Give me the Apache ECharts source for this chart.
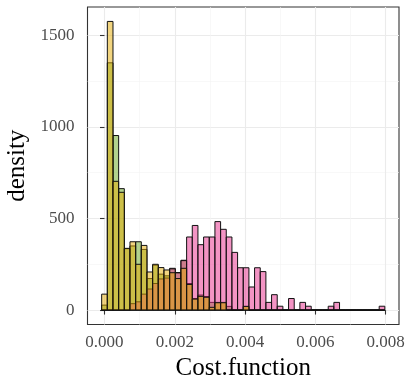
<!DOCTYPE html>
<html>
<head>
<meta charset="utf-8">
<script src="https://cdn.jsdelivr.net/npm/echarts@6/dist/echarts.min.js"></script>
<style>
  html, body { margin: 0; padding: 0; background: #fff; }
  #chart { width: 409px; height: 377px; }
</style>
</head>
<body>
<div id="chart"></div>
<script>
// histogram bins: 50 bins, first centred on 0
var binStart = -0.0000806
var binWidth = 0.00016122

// density per bin
var greenDensity = [27, 1350, 953, 663, 335, 350, 373, 331, 172, 245,
  196, 187, 228, 205, 272, 145, 63, 82, 74, 42,
  42, 42, 20, 0, 0, 20, 0, 0, 0, 0,
  0, 0, 0, 0, 0, 0, 0, 0, 0, 0,
  0, 0, 0, 0, 0, 0, 0, 0, 0, 0]
var pinkDensity = [0, 0, 0, 0, 0, 35, 45, 87, 115, 145,
  170, 175, 225, 203, 270, 399, 462, 357, 399, 399,
  483, 441, 399, 315, 231, 231, 126, 231, 210, 42,
  84, 21, 0, 63, 0, 42, 21, 0, 0, 0,
  21, 42, 0, 0, 0, 0, 0, 0, 0, 21]
var yellowDensity = [87, 1576, 703, 643, 337, 373, 250, 353, 208, 250,
  232, 219, 204, 172, 228, 140, 60, 75, 70, 15,
  40, 40, 0, 0, 0, 20, 0, 0, 0, 0,
  0, 0, 0, 0, 0, 0, 0, 0, 0, 0,
  0, 0, 0, 0, 0, 0, 0, 0, 0, 0]

var xMajor = [0, 0.002, 0.004, 0.006, 0.008]
var xMinor = [0.001, 0.003, 0.005, 0.007]
var yMajor = [0, 500, 1000, 1500]
var yMinor = [250, 750, 1250]

// ggplot style 5% expansion
var xLo = binStart, xHi = binStart + binWidth * greenDensity.length
var xPad = (xHi - xLo) * 0.05
var yTop = Math.max.apply(null, yellowDensity.concat(greenDensity, pinkDensity))
var yPad = yTop * 0.05

function toRows(values) {
  return values.map(function (v, i) {
    return [binStart + i * binWidth, binStart + (i + 1) * binWidth, v]
  })
}

function histSeries(values, fill) {
  return {
    type: 'custom',
    xAxisIndex: 0,
    yAxisIndex: 0,
    clip: true,
    silent: true,
    data: toRows(values),
    encode: { x: [0, 1], y: 2 },
    renderItem: function (params, api) {
      var a = api.coord([api.value(0), api.value(2)])
      var b = api.coord([api.value(1), 0])
      return {
        type: 'rect',
        shape: { x: a[0], y: a[1], width: b[0] - a[0], height: b[1] - a[1] },
        style: { fill: fill, stroke: '#111', lineWidth: 1 }
      }
    }
  }
}

var font = 'Liberation Serif'
var tickText = { fontFamily: font, fontSize: 17, color: '#4d4d4d' }

var myChart = echarts.init(document.getElementById('chart'), null, { renderer: 'canvas' })

myChart.setOption({
  animation: false,
  backgroundColor: '#fff',
  grid: {
    left: 87.5,
    right: 10,
    top: 7,
    bottom: 52.5,
    outerBoundsMode: 'none',
    containLabel: false,
    show: true,
    borderColor: '#333',
    borderWidth: 1.1,
    backgroundColor: 'transparent'
  },
  xAxis: [
    {
      type: 'value',
      min: xLo - xPad,
      max: xHi + xPad,
      name: 'Cost.function',
      nameLocation: 'middle',
      nameGap: 30,
      nameTextStyle: { fontFamily: font, fontSize: 25, color: '#000' },
      axisLine: { show: false },
      axisTick: { show: true, length: 4.5, customValues: xMajor, lineStyle: { color: '#333', width: 1.1 } },
      axisLabel: {
        customValues: xMajor,
        margin: 10,
        formatter: function (v) { return v.toFixed(3) },
        ...tickText
      },
      splitLine: { show: true, lineStyle: { color: '#ebebeb', width: 1.1 } }
    },
    {
      type: 'value',
      min: xLo - xPad,
      max: xHi + xPad,
      axisLine: { show: false },
      axisTick: { show: false, customValues: xMinor },
      axisLabel: { show: false, customValues: xMinor },
      splitLine: { show: true, lineStyle: { color: '#f3f3f3', width: 0.6 } }
    }
  ],
  yAxis: [
    {
      type: 'value',
      min: -yPad,
      max: yTop + yPad,
      name: 'density',
      nameLocation: 'middle',
      nameGap: 56,
      nameRotate: 90,
      nameTextStyle: { fontFamily: font, fontSize: 25, color: '#000' },
      axisLine: { show: false },
      axisTick: { show: true, length: 4.5, customValues: yMajor, lineStyle: { color: '#333', width: 1.1 } },
      axisLabel: {
        customValues: yMajor,
        margin: 13,
        formatter: function (v) { return String(v) },
        ...tickText
      },
      splitLine: { show: true, lineStyle: { color: '#ebebeb', width: 1.1 } }
    },
    {
      type: 'value',
      min: -yPad,
      max: yTop + yPad,
      axisLine: { show: false },
      axisTick: { show: false, customValues: yMinor },
      axisLabel: { show: false, customValues: yMinor },
      splitLine: { show: true, lineStyle: { color: '#f3f3f3', width: 0.6 } }
    }
  ],
  series: [
    histSeries(greenDensity, 'rgba(102,166,30,0.5)'),
    histSeries(pinkDensity, 'rgba(231,41,138,0.5)'),
    histSeries(yellowDensity, 'rgba(230,171,2,0.5)')
  ]
})

window.addEventListener('resize', function () {
  myChart.resize()
})
</script>
</body>
</html>
